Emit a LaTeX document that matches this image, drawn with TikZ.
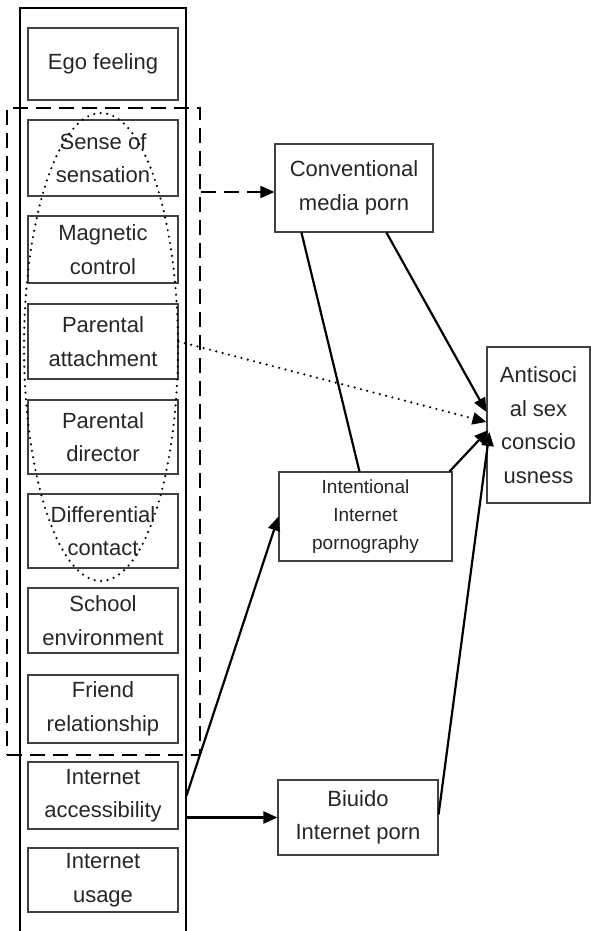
\documentclass[tikz,border=0pt]{standalone}
\usepackage{fontspec}
\setmainfont{Liberation Sans}
\usetikzlibrary{arrows.meta,calc}
\begin{document}
\begin{tikzpicture}[x=1pt,y=-1pt,
  box/.style={draw=black!75, line width=1.1pt, inner sep=0pt, align=center, text=black!85,
    font=\fontsize{22}{33.5}\selectfont, minimum width=150pt},
  conn/.style={line width=2.2pt, black},
  tip/.style={-{Triangle[length=14pt,width=12pt]}}
]
\useasboundingbox (0,0) rectangle (591,931);
% outer column
\draw[line width=2.2pt] (20,931) -- (20,8) -- (186,8) -- (186,931);
% left boxes
\node[box, minimum height=72pt] (ego) at (103,64) {Ego feeling};
\node[box, minimum height=76pt] (sense) at (103,158) {Sense of\\sensation};
\node[box, minimum height=67pt] (magn) at (103,249.5) {Magnetic\\control};
\node[box, minimum height=75pt] (pattach) at (103,341.5) {Parental\\attachment};
\node[box, minimum height=74pt] (pdir) at (103,437) {Parental\\director};
\node[box, minimum height=74pt] (diff) at (103,531) {Differential\\contact};
\node[box, minimum height=65pt] (school) at (103,620.5) {School\\environment};
\node[box, minimum height=68pt] (friend) at (103,709) {Friend\\relationship};
\node[box, minimum height=67pt] (access) at (103,795.5) {Internet\\accessibility};
\node[box, minimum height=64pt] (usage) at (103,880) {Internet\\usage};
% group rectangle and ellipse
\node[draw, line width=2.2pt, dash pattern=on 15pt off 8pt, minimum width=193pt, minimum height=647pt, inner sep=0pt] (grp) at (103.5,431.5) {};
\draw[line width=2.4pt, dash pattern=on 0pt off 6.5pt, line cap=round] (101,347) ellipse [x radius=77, y radius=234];
% right boxes
\node[box, minimum width=158pt, minimum height=88pt] (conv) at (354,188) {Conventional\\media porn};
\node[box, minimum width=103pt, minimum height=156pt] (anti) at (538.5,425) {Antisoci\\al sex\\conscio\\usness};
\node[box, minimum width=173pt, minimum height=89pt, font=\fontsize{19}{28}\selectfont] (intent) at (365.5,516.5) {Intentional\\Internet\\pornography};
\node[box, minimum width=160pt, minimum height=75pt] (biuido) at (358,817.5) {Biuido\\Internet porn};
% connectors
\draw[conn, tip, dash pattern=on 15pt off 8pt] ([yshift=-4pt]grp.east |- conv.west) -- ([yshift=-4pt]conv.west);
\draw[conn] ([xshift=27pt]conv.south west) -- ([xshift=81pt]intent.north west);
\draw[conn, tip] ([xshift=112pt]conv.south west) -- ([yshift=13pt]anti.west);
\draw[conn, tip, line width=2.4pt, dash pattern=on 0pt off 6.5pt, line cap=round] (pattach.east) -- ([yshift=3pt]anti.west);
\draw[conn, tip] ([xshift=-3pt]intent.north east) -- ([xshift=2pt,yshift=-5pt]anti.west);
\draw[conn, tip] ([yshift=3pt]biuido.east) -- ([xshift=3pt,yshift=-7pt]anti.west);
\draw[conn, tip] ([xshift=8pt]access.east) -- (intent.west);
\draw[conn, tip] ([xshift=8pt,yshift=-22pt]access.east) -- (biuido.west);
\end{tikzpicture}
\end{document}
